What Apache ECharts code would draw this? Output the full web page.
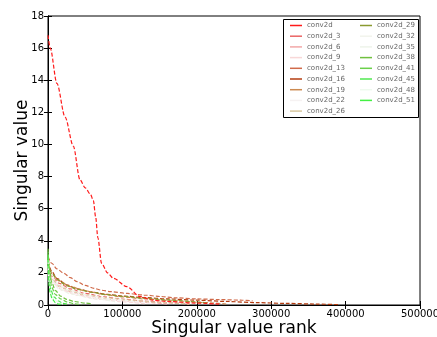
<!DOCTYPE html>
<html>
<head>
<meta charset="utf-8">
<script src="https://cdn.jsdelivr.net/npm/echarts@6/dist/echarts.min.js"></script>
<style>
  html, body { margin: 0; padding: 0; background: #fff; }
  #chart { width: 437px; height: 337px; }
</style>
</head>
<body>
<div id="chart"></div>
<script>
// singular value curves, [rank, value]
const conv2d = [[0, 16.8], [3000, 16.0], [12000, 13.8], [23000, 11.7], [34000, 9.9], [43000, 7.8], [50000, 7.3], [57000, 6.9], [61000, 6.5], [64000, 5.5], [67000, 4.2], [72000, 2.6], [80000, 2.0], [88000, 1.66], [106000, 1.14], [124000, 0.52], [141000, 0.3], [160000, 0.22], [200000, 0.12], [230000, 0.05]];
const conv2d_3 = [[0, 2.3], [5000, 1.8], [15000, 1.35], [30000, 1.0], [50000, 0.72], [75000, 0.5], [100000, 0.36], [130000, 0.24], [160000, 0.14], [190000, 0.06]];
const conv2d_6 = [[0, 2.1], [5000, 1.6], [15000, 1.15], [30000, 0.82], [50000, 0.58], [75000, 0.4], [100000, 0.27], [130000, 0.16], [160000, 0.07]];
const conv2d_9 = [[0, 1.9], [8000, 1.3], [20000, 0.9], [40000, 0.6], [70000, 0.35], [100000, 0.2], [130000, 0.08]];
const conv2d_13 = [[0, 3.0], [5000, 2.6], [12000, 2.25], [21500, 1.97], [30000, 1.7], [39400, 1.45], [50000, 1.22], [61800, 1.04], [72000, 0.92], [84300, 0.83], [106600, 0.72], [129000, 0.62], [151000, 0.53], [170000, 0.45], [200000, 0.38], [230000, 0.34], [260000, 0.3], [275000, 0.26]];
const conv2d_16 = [[0, 2.7], [5000, 2.1], [12000, 1.65], [25000, 1.25], [40000, 1.0], [60000, 0.8], [80000, 0.66], [100000, 0.56], [130000, 0.46], [160000, 0.38], [200000, 0.3], [240000, 0.22], [280000, 0.15], [320000, 0.1], [360000, 0.06], [390000, 0.02]];
const conv2d_19 = [[0, 2.5], [6000, 1.9], [15000, 1.5], [30000, 1.15], [50000, 0.88], [75000, 0.66], [100000, 0.5], [130000, 0.38], [170000, 0.26], [210000, 0.15], [240000, 0.06]];
const conv2d_22 = [[0, 2.0], [8000, 1.4], [20000, 1.0], [40000, 0.68], [70000, 0.42], [100000, 0.26], [140000, 0.1]];
const conv2d_26 = [[0, 2.2], [6000, 1.6], [15000, 1.2], [30000, 0.88], [50000, 0.64], [80000, 0.44], [110000, 0.3], [150000, 0.16], [190000, 0.06]];
const conv2d_29 = [[0, 2.6], [5000, 2.0], [12000, 1.6], [25000, 1.2], [40000, 0.97], [60000, 0.78], [80000, 0.64], [100000, 0.54], [130000, 0.42], [160000, 0.32], [200000, 0.2], [215000, 0.12]];
const conv2d_32 = [[0, 2.4], [6000, 1.7], [15000, 1.25], [30000, 0.9], [60000, 0.55], [90000, 0.35], [120000, 0.18]];
const conv2d_35 = [[0, 2.2], [5000, 1.5], [15000, 1.0], [30000, 0.7], [60000, 0.4], [90000, 0.2]];
const conv2d_38 = [[0, 3.5], [2000, 2.2], [5000, 1.4], [10000, 0.9], [17000, 0.55], [25000, 0.35], [35000, 0.22], [50000, 0.12], [60000, 0.06]];
const conv2d_41 = [[0, 3.3], [2000, 1.9], [5000, 1.1], [10000, 0.65], [17000, 0.38], [25000, 0.2], [35000, 0.08], [45000, 0.02]];
const conv2d_45 = [[0, 3.1], [1500, 1.6], [4000, 0.9], [8000, 0.5], [14000, 0.25], [20000, 0.1], [28000, 0.03]];
const conv2d_48 = [[0, 2.8], [1500, 1.3], [4000, 0.7], [8000, 0.35], [14000, 0.15], [20000, 0.05]];
const conv2d_51 = [[0, 2.9], [1000, 1.4], [3000, 0.7], [6000, 0.35], [10000, 0.15], [15000, 0.05], [20000, 0.01]];

const leftNames = ['conv2d', 'conv2d_3', 'conv2d_6', 'conv2d_9', 'conv2d_13', 'conv2d_16', 'conv2d_19', 'conv2d_22', 'conv2d_26'];
const rightNames = ['conv2d_29', 'conv2d_32', 'conv2d_35', 'conv2d_38', 'conv2d_41', 'conv2d_45', 'conv2d_48', 'conv2d_51'];
const seriesData = [conv2d, conv2d_3, conv2d_6, conv2d_9, conv2d_13, conv2d_16, conv2d_19, conv2d_22, conv2d_26,
  conv2d_29, conv2d_32, conv2d_35, conv2d_38, conv2d_41, conv2d_45, conv2d_48, conv2d_51];
const colors = ['#ff1a1a', '#ea6464', '#f2a8a8', '#f8d8d8', '#d06a4a', '#b43c10', '#cc8a50', '#f6f2f2', '#d8c8a0',
  '#8a9a30', '#f2f4ec', '#eef4ea', '#70c040', '#6ad04a', '#50e850', '#eefaee', '#44f044'];
const xTicks = [0, 100000, 200000, 300000, 400000, 500000];

const allNames = leftNames.concat(rightNames);

const chart = echarts.init(document.getElementById('chart'), null, { renderer: 'canvas' });

const font = 'DejaVu Sans';

const legendBase = {
  orient: 'vertical',
  top: 17,
  itemWidth: 12,
  itemHeight: 1.5,
  itemGap: 3.7,
  icon: 'rect',
  textStyle: { fontSize: 7, color: '#666', fontFamily: font },
  z: 20
};

chart.setOption({
  animation: false,
  textStyle: { fontFamily: font },
  grid: { left: 48, right: 17, top: 16, bottom: 32, outerBoundsMode: 'none', show: true, borderColor: '#000', borderWidth: 1 },
  graphic: [{
    type: 'rect',
    shape: { x: 283.5, y: 19.5, width: 135, height: 98 },
    style: { fill: '#fff', stroke: '#000', lineWidth: 1 },
    z: 10
  }],
  legend: [
    Object.assign({ data: leftNames, left: 285 }, legendBase),
    Object.assign({ data: rightNames, left: 355 }, legendBase)
  ],
  xAxis: [{
    type: 'value',
    min: 0,
    max: 500000,
    interval: 100000,
    name: 'Singular value rank',
    nameLocation: 'middle',
    nameGap: 15,
    nameMoveOverlap: false,
    nameTextStyle: { fontSize: 17, color: '#000', verticalAlign: 'top' },
    axisLine: { show: true, lineStyle: { color: '#000' } },
    axisTick: { show: true, inside: true, length: 4, lineStyle: { color: '#000' } },
    axisLabel: {
      color: '#000', fontSize: 10, margin: 4,
      formatter: v => xTicks.indexOf(v) >= 0 ? String(v) : ''
    },
    splitLine: { show: false }
  }, {
    type: 'value',
    position: 'top',
    min: 0,
    max: 500000,
    interval: 100000,
    axisLine: { show: true, lineStyle: { color: '#000' } },
    axisTick: { show: true, inside: true, length: 4, lineStyle: { color: '#000' } },
    axisLabel: { show: false },
    splitLine: { show: false }
  }],
  yAxis: [{
    type: 'value',
    min: 0,
    max: 18,
    interval: 2,
    name: 'Singular value',
    nameLocation: 'middle',
    nameGap: 17,
    nameMoveOverlap: false,
    nameTextStyle: { fontSize: 17, color: '#000' },
    axisLine: { show: true, lineStyle: { color: '#000' } },
    axisTick: { show: true, inside: true, length: 4, lineStyle: { color: '#000' } },
    axisLabel: { color: '#000', fontSize: 10, margin: 4 },
    splitLine: { show: false }
  }, {
    type: 'value',
    position: 'right',
    min: 0,
    max: 18,
    interval: 2,
    axisLine: { show: true, lineStyle: { color: '#000' } },
    axisTick: { show: true, inside: true, length: 4, lineStyle: { color: '#000' } },
    axisLabel: { show: false },
    splitLine: { show: false }
  }],
  series: seriesData.map((d, i) => ({
    name: allNames[i],
    type: 'line',
    data: d,
    showSymbol: false,
    smooth: 0.3,
    smoothMonotone: 'x',
    color: colors[i],
    lineStyle: { width: 1.2, type: [4, 2], color: colors[i] },
    z: i === 0 ? 5 : 2
  }))
});
</script>
</body>
</html>
